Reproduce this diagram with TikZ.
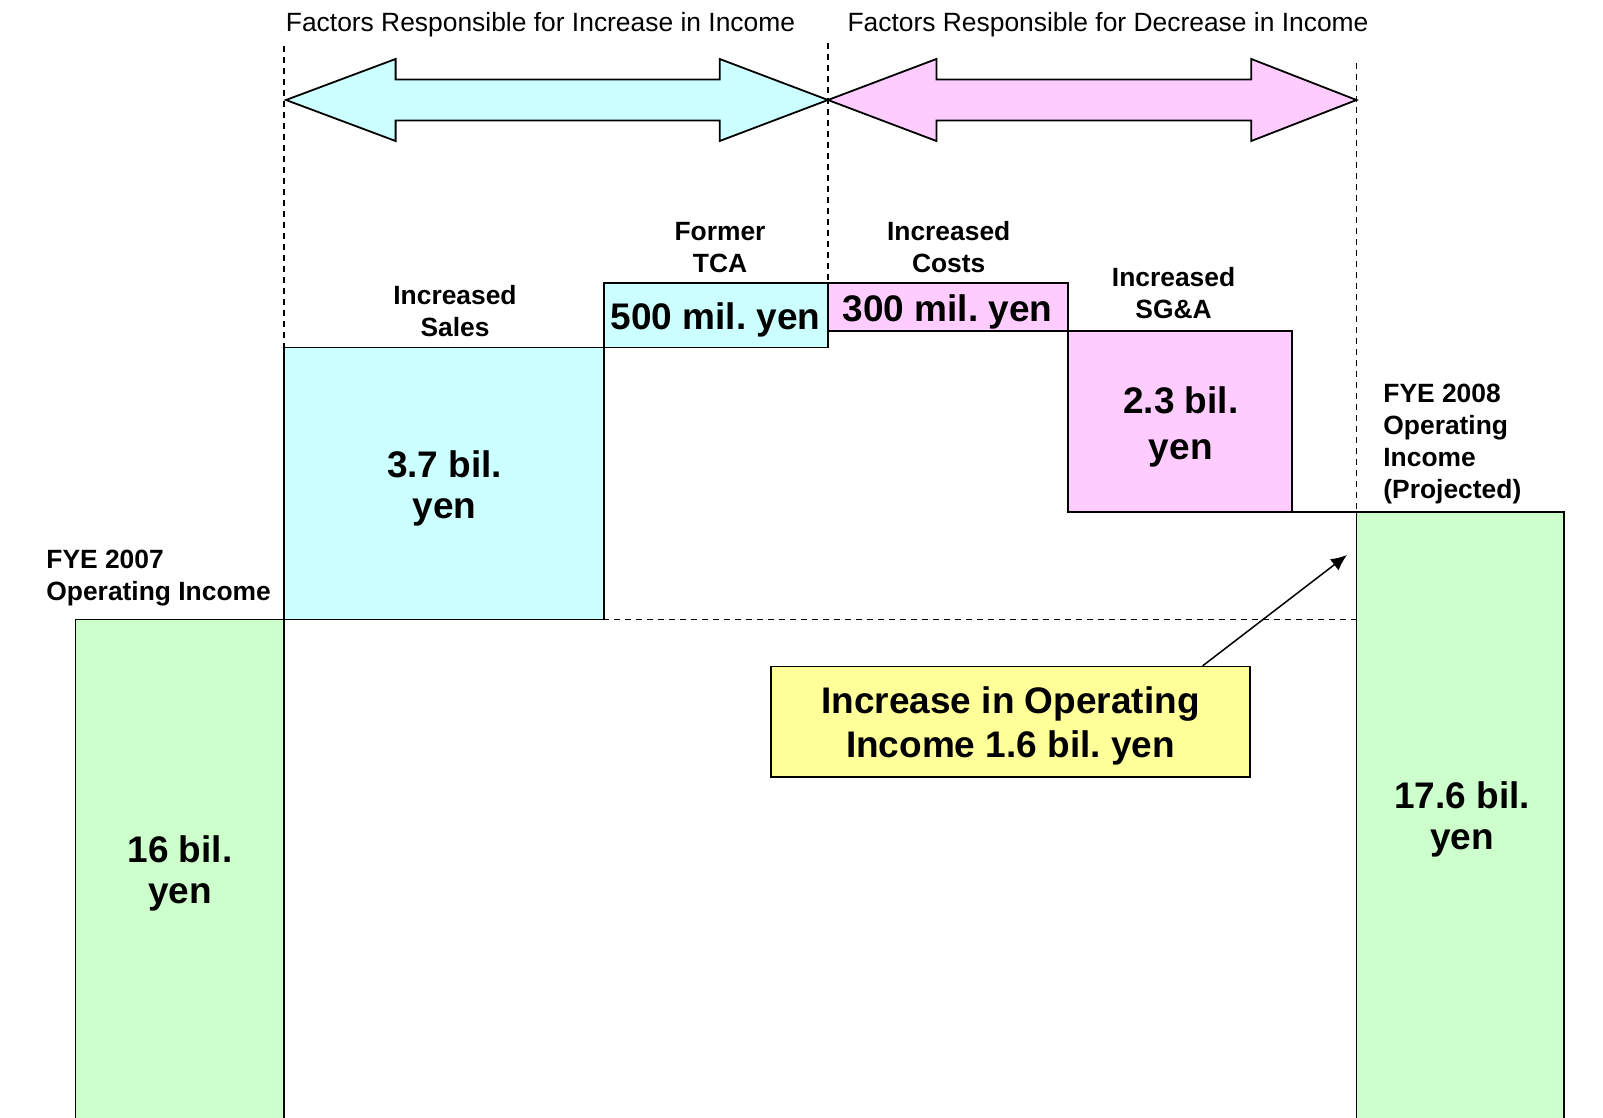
\documentclass[tikz,border=0pt]{standalone}
\usepackage{fontspec}
\setmainfont{Liberation Sans}
\usetikzlibrary{arrows.meta,calc}
\frenchspacing

\definecolor{inccyan}{HTML}{CCFFFF}
\definecolor{decpink}{HTML}{FFCCFF}
\definecolor{opgreen}{HTML}{CCFFCC}
\definecolor{noteyellow}{HTML}{FFFF99}

\begin{document}
\begin{tikzpicture}[x=0.5pt,y=-0.5pt,
  box/.style={draw=black,line width=0.75pt},
  guide/.style={dash pattern=on 3pt off 2.5pt,line width=0.75pt},
  title/.style={font=\fontsize{13.2}{16}\selectfont,inner sep=0pt},
  lbl/.style={font=\bfseries\fontsize{13.2}{16}\selectfont,align=center,inner sep=0pt},
  big/.style={font=\bfseries\fontsize{18.5}{20.5}\selectfont,align=center,inner sep=0pt}]

  \useasboundingbox (0,0) rectangle (1603,1118);

  % titles
  \node[title] (titleinc) at (540.5,25) {Factors Responsible for Increase in Income};
  \node[title] (titledec) at (1108,25) {Factors Responsible for Decrease in Income};

  % dashed guides
  \draw[guide] (284,46) -- (284,348);
  \draw[guide] (828,43) -- (828,283);
  \draw[guide] (1356.5,63) -- (1356.5,512);
  \draw[guide] (427,619.5) -- (1356.5,619.5);

  % double arrows
  \filldraw[fill=inccyan,line width=0.9pt] (286,100) -- (395.6,59) -- (395.6,79.5)
    -- (719.7,79.5) -- (719.7,59) -- (828,100) -- (719.7,141) -- (719.7,120.5)
    -- (395.6,120.5) -- (395.6,141) -- cycle;
  \filldraw[fill=decpink,line width=0.9pt] (828,100) -- (936.4,59) -- (936.4,79.5)
    -- (1251.3,79.5) -- (1251.3,59) -- (1356.5,100) -- (1251.3,141) -- (1251.3,120.5)
    -- (936.4,120.5) -- (936.4,141) -- cycle;

  % bars
  \fill[opgreen] (75.6,619.5) rectangle (284,1118);
  \draw[box] (75.6,1118) -- (75.6,619.5) -- (284,619.5) -- (284,1118);
  \fill[opgreen] (1356.5,512) rectangle (1564,1118);
  \draw[box] (1356.5,1118) -- (1356.5,512) -- (1564,512) -- (1564,1118);

  \filldraw[box,fill=inccyan] (284,347.6) rectangle (604,619.5);
  \filldraw[box,fill=inccyan] (604,283) rectangle (828,347.6);
  \filldraw[box,fill=decpink] (828,283) rectangle (1068,331);
  \filldraw[box,fill=decpink] (1068,331) rectangle (1292,512);
  \draw[box] (1292,512) -- (1356.5,512);

  % labels
  \node[lbl] (saleslbl) at (455,311) {Increased\\Sales};
  \node[big] (salesval) at (444.7,488) {3.7 bil.\\yen};
  \node[lbl] (tcalbl) at (720,248) {Former\\TCA};
  \node[big] (tcaval) at (715.6,320) {500 mil. yen};
  \node[lbl] (costlbl) at (948.7,247) {Increased\\Costs};
  \node[big] (costval) at (947.7,312) {300 mil. yen};
  \node[lbl] (sgalbl) at (1173.6,293) {Increased\\SG\&A};
  \node[big,font=\bfseries\fontsize{18.5}{23}\selectfont] (sgaval) at (1180.8,427) {2.3 bil.\\yen};

  \node[lbl,anchor=west,align=left] (fye07) at (46,578) {FYE 2007\\Operating Income};
  \node[big] (val07) at (180,873) {16 bil.\\yen};
  \node[lbl,anchor=west,align=left] (fye08) at (1383,444) {FYE 2008\\Operating\\Income\\(Projected)};
  \node[big] (val08) at (1462,819) {17.6 bil.\\yen};

  % note
  \node[big,font=\bfseries\fontsize{18.5}{22}\selectfont,draw=black,line width=0.75pt,
    fill=noteyellow,minimum width=239.5pt,minimum height=55.25pt,
    text depth=0pt] (note) at (1010.5,721.8) {Increase in Operating\\Income 1.6 bil. yen};
  \coordinate (noteend) at (1347,555);
  \draw[-{Latex[length=8pt,width=7pt]},line width=0.75pt]
    ($(note.north)!0.8!(note.north east)$) -- (noteend);

\end{tikzpicture}
\end{document}
